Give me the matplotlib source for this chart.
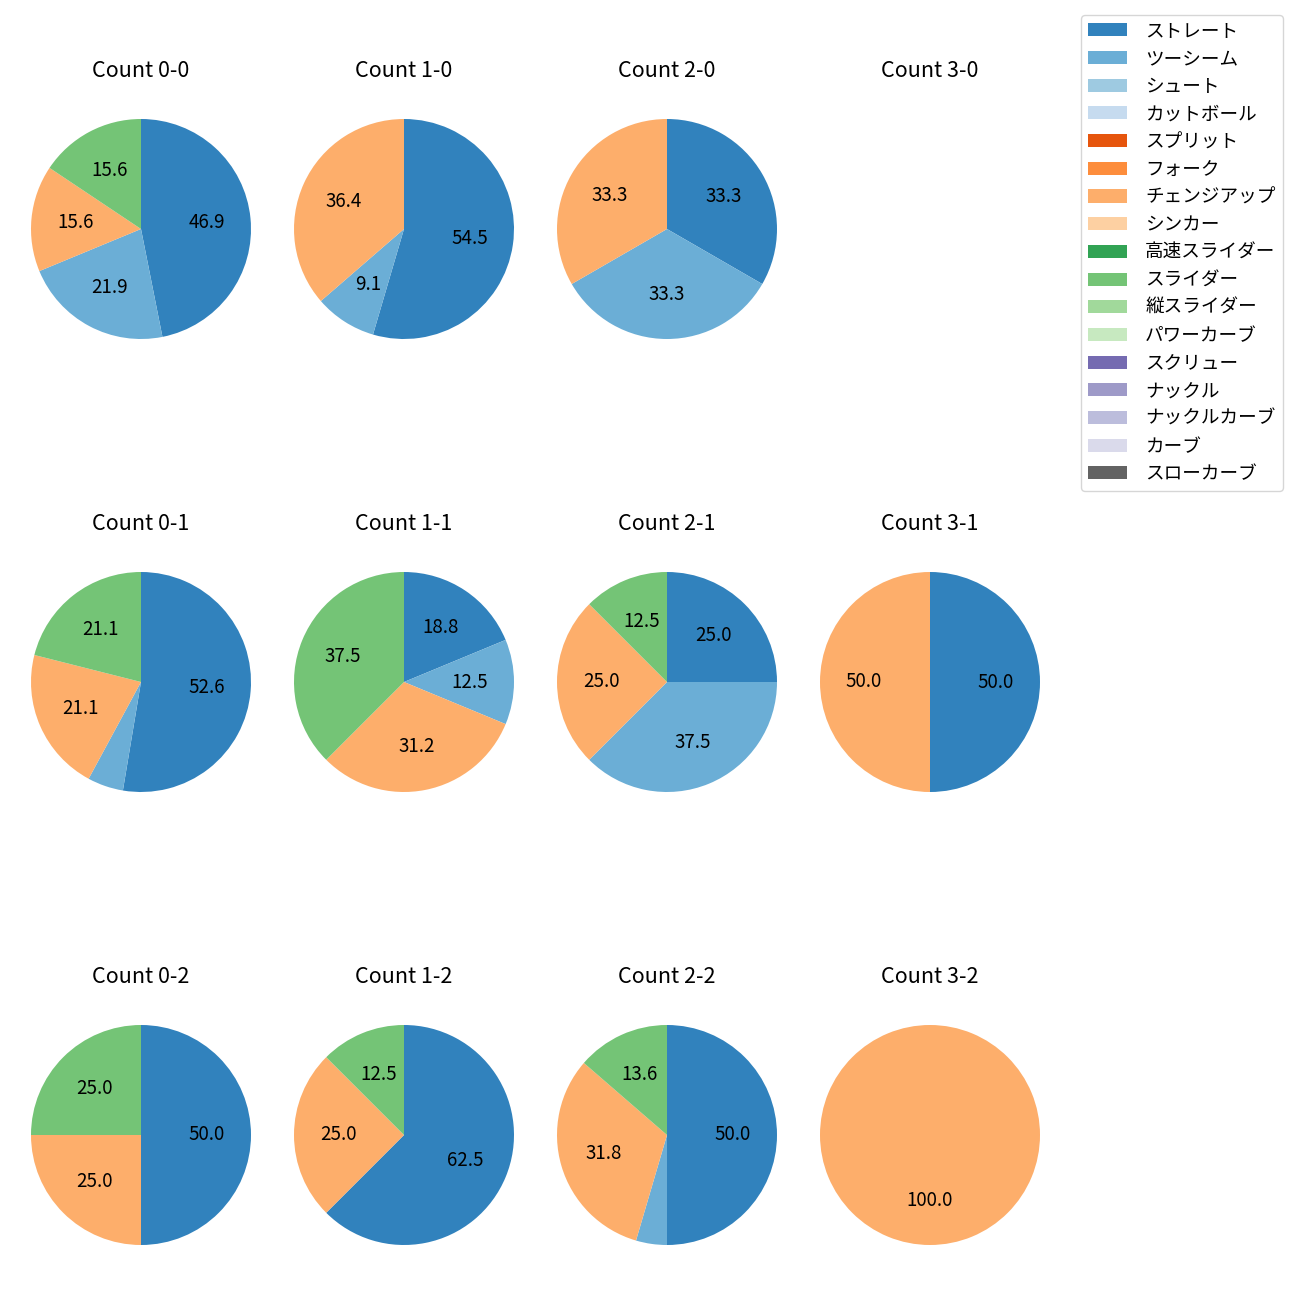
import matplotlib
matplotlib.use("Agg")
import matplotlib.pyplot as plt
from matplotlib.patches import Patch

plt.rcParams['font.family'] = ['Noto Sans CJK JP', 'DejaVu Sans']

pitch_types = ['ストレート', 'ツーシーム', 'シュート', 'カットボール', 'スプリット', 'フォーク',
               'チェンジアップ', 'シンカー', '高速スライダー', 'スライダー', '縦スライダー',
               'パワーカーブ', 'スクリュー', 'ナックル', 'ナックルカーブ', 'カーブ', 'スローカーブ']
cmap = plt.get_cmap('tab20c')
colors = {p: cmap(i) for i, p in enumerate(pitch_types)}

# counts per ball-strike situation: (ストレート, ツーシーム, チェンジアップ, スライダー)
shown = ['ストレート', 'ツーシーム', 'チェンジアップ', 'スライダー']
counts = {
    '0-0': [15, 7, 5, 5],
    '1-0': [6, 1, 4, 0],
    '2-0': [1, 1, 1, 0],
    '3-0': [0, 0, 0, 0],
    '0-1': [10, 1, 4, 4],
    '1-1': [3, 2, 5, 6],
    '2-1': [2, 3, 2, 1],
    '3-1': [1, 0, 1, 0],
    '0-2': [2, 0, 1, 1],
    '1-2': [5, 0, 2, 1],
    '2-2': [11, 1, 7, 3],
    '3-2': [0, 0, 1, 0],
}

fig = plt.figure(figsize=(13, 13), dpi=100)
W = H = 1300
box = 275
xs = [141, 404, 667, 930]
ys = [229, 682, 1135]

for r, strikes in enumerate(range(3)):
    for c, balls in enumerate(range(4)):
        key = f'{balls}-{strikes}'
        cx, cy = xs[c], ys[r]
        ax = fig.add_axes([(cx - box / 2) / W, 1 - (cy + box / 2) / H, box / W, box / H])
        vals = counts[key]
        data = [(v, colors[p]) for v, p in zip(vals, shown) if v > 0]
        if data:
            ax.pie([d[0] for d in data], colors=[d[1] for d in data],
                   startangle=90, counterclock=False,
                   autopct=lambda p: f'{p:.1f}' if p >= 8 else '',
                   textprops={'fontsize': 13.5})
        else:
            ax.set_xlim(-1.25, 1.25)
            ax.set_ylim(-1.25, 1.25)
            ax.axis('off')
        ax.set_title(f'Count {key}', fontsize=15.5, pad=10.5)

handles = [Patch(facecolor=colors[p]) for p in pitch_types]
fig.legend(handles, pitch_types, loc='upper right', borderaxespad=0,
           bbox_to_anchor=(1283 / W, 1 - 15 / H), fontsize=13.4,
           labelspacing=0.52, handlelength=2.1, handletextpad=0.95)

fig.savefig('out.png', dpi=100)
